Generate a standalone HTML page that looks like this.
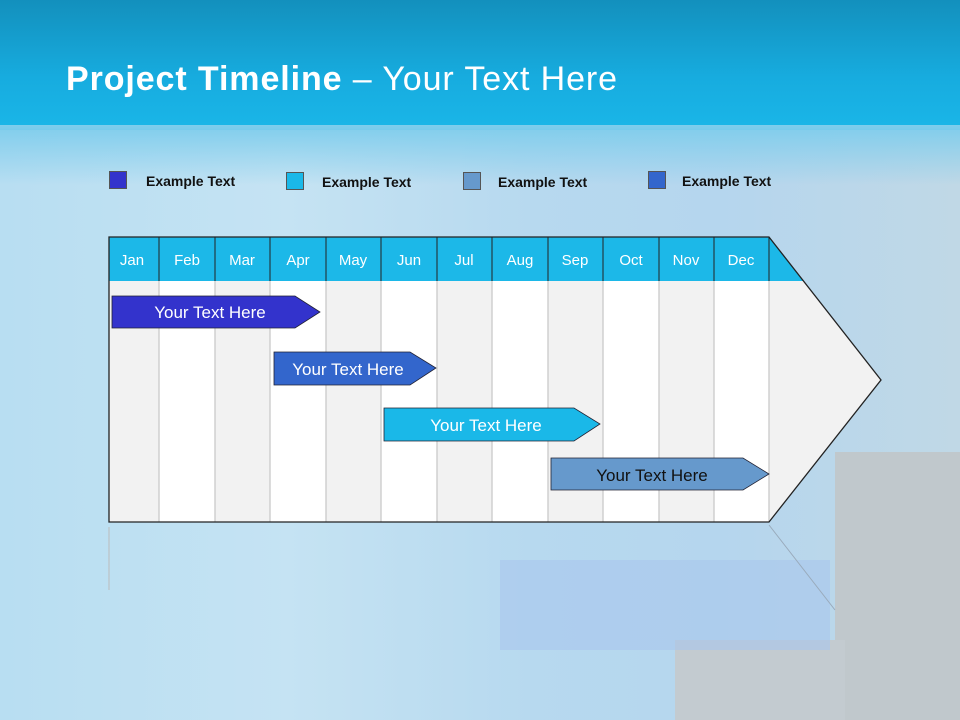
<!DOCTYPE html>
<html><head><style>
body{margin:0}
#s{position:relative;width:960px;height:720px;overflow:hidden;font-family:"Liberation Sans",sans-serif;
background:linear-gradient(90deg,#b8def2 0%,#c5e3f3 30%,#b7d9ef 55%,#b5d6ee 75%,#c0d8e6 100%);}
.top{position:absolute;left:0;top:0;width:960px;height:130px;background:linear-gradient(#1390bd,#17acdf 60%,#1ab6e8);}
.fade{position:absolute;left:0;top:125px;width:960px;height:60px;background:linear-gradient(#7fcdec,rgba(190,225,244,0));}
h1{position:absolute;left:66px;top:60px;margin:0;font-size:34px;letter-spacing:0.9px;font-weight:normal;color:#fff;}
.lg{position:absolute;width:18px;height:18px;border:1px solid #555;box-sizing:border-box}
.lt{position:absolute;font-size:14px;font-weight:bold;color:#111}
</style></head><body><div id="s">
<div class="top"></div><div class="fade"></div>
<div style="position:absolute;left:835px;top:452px;width:125px;height:268px;background:#c0c8cc"></div>
<div style="position:absolute;left:675px;top:640px;width:170px;height:80px;background:#c3cbd0"></div>
<div style="position:absolute;left:500px;top:560px;width:330px;height:90px;background:#a9c7ec;opacity:.6"></div>
<h1><b>Project Timeline</b> – Your Text Here</h1>
<div class="lg" style="left:109px;top:171px;background:#3333cc"></div><div class="lt" style="left:146px;top:173px">Example Text</div>
<div class="lg" style="left:286px;top:172px;background:#1ab8e8"></div><div class="lt" style="left:322px;top:174px">Example Text</div>
<div class="lg" style="left:463px;top:172px;background:#6699cc"></div><div class="lt" style="left:498px;top:174px">Example Text</div>
<div class="lg" style="left:648px;top:171px;background:#3366cc"></div><div class="lt" style="left:682px;top:173px">Example Text</div>
<svg width="960" height="720" style="position:absolute;left:0;top:0" font-family="Liberation Sans, sans-serif">
<polygon points="109,237 769,237 881,380 769,522 109,522" fill="#f2f2f2"/>
<g fill="#fff">
<rect x="159" y="237" width="56" height="285"/><rect x="270" y="237" width="56" height="285"/>
<rect x="381" y="237" width="56" height="285"/><rect x="492" y="237" width="56" height="285"/>
<rect x="603" y="237" width="56" height="285"/><rect x="714" y="237" width="55" height="285"/>
</g>
<g stroke="#d0d0d0" stroke-width="1.5">
<line x1="159" y1="281" x2="159" y2="522"/><line x1="215" y1="281" x2="215" y2="522"/><line x1="270" y1="281" x2="270" y2="522"/>
<line x1="326" y1="281" x2="326" y2="522"/><line x1="381" y1="281" x2="381" y2="522"/><line x1="437" y1="281" x2="437" y2="522"/>
<line x1="492" y1="281" x2="492" y2="522"/><line x1="548" y1="281" x2="548" y2="522"/><line x1="603" y1="281" x2="603" y2="522"/>
<line x1="659" y1="281" x2="659" y2="522"/><line x1="714" y1="281" x2="714" y2="522"/><line x1="769" y1="281" x2="769" y2="522"/>
</g>
<polygon points="109,237 769,237 803.5,281 109,281" fill="#1cb8e8"/>
<g stroke="#222" stroke-width="1">
<line x1="159" y1="237" x2="159" y2="281"/><line x1="215" y1="237" x2="215" y2="281"/><line x1="270" y1="237" x2="270" y2="281"/>
<line x1="326" y1="237" x2="326" y2="281"/><line x1="381" y1="237" x2="381" y2="281"/><line x1="437" y1="237" x2="437" y2="281"/>
<line x1="492" y1="237" x2="492" y2="281"/><line x1="548" y1="237" x2="548" y2="281"/><line x1="603" y1="237" x2="603" y2="281"/>
<line x1="659" y1="237" x2="659" y2="281"/><line x1="714" y1="237" x2="714" y2="281"/><line x1="769" y1="237" x2="769" y2="281"/>
</g>
<polygon points="109,237 769,237 881,380 769,522 109,522" fill="none" stroke="#222" stroke-width="1.3"/>
<polyline points="109,527 109,590" stroke="#bbb" fill="none"/>
<polyline points="769,525 835,610" stroke="#9ab" fill="none"/>
<g fill="#fff" font-size="15" text-anchor="middle">
<text x="132" y="265">Jan</text><text x="187" y="265">Feb</text><text x="242" y="265">Mar</text><text x="298" y="265">Apr</text>
<text x="353" y="265">May</text><text x="409" y="265">Jun</text><text x="464" y="265">Jul</text><text x="520" y="265">Aug</text>
<text x="575" y="265">Sep</text><text x="631" y="265">Oct</text><text x="686" y="265">Nov</text><text x="741" y="265">Dec</text>
</g>
<g stroke="#223" stroke-width="0.8">
<polygon points="112,296 295,296 320,312 295,328 112,328" fill="#3333cc"/>
<polygon points="274,352 410,352 436,368 410,385 274,385" fill="#3366cc"/>
<polygon points="384,408 574,408 600,424 574,441 384,441" fill="#1ab8e8"/>
<polygon points="551,458 743,458 769,474 743,490 551,490" fill="#6699cc"/>
</g>
<g font-size="17" text-anchor="middle" xml:space="preserve">
<text x="210" y="318" fill="#fff">Your  Text Here</text>
<text x="348" y="375" fill="#fff">Your  Text Here</text>
<text x="486" y="431" fill="#fff">Your  Text Here</text>
<text x="652" y="481" fill="#111">Your  Text Here</text>
</g>
</svg>
</div></body></html>
